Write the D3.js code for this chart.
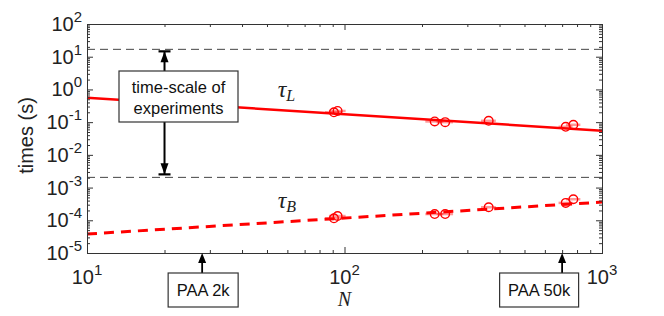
<!DOCTYPE html>
<html lang="en">
<head>
  <meta charset="UTF-8">
  <title>Time scales vs N</title>
  <script src="https://d3js.org/d3.v7.min.js"></script>
  <style>
    body { margin: 0; background: #fff; }
    svg { font-family: "Liberation Sans", Arial, sans-serif; }
  </style>
</head>
<body>
  <svg id="chart" width="664" height="316"></svg>
  <script>
    // Measured data (N, tau_L, tau_B) with horizontal error on N
    const nVals   = [91, 94, 224, 246, 363, 723, 774];
    const nErr    = [7, 7, 18, 18, 24, 45, 50];
    const tauL    = [0.20, 0.22, 0.105, 0.10, 0.11, 0.072, 0.083];
    const tauB    = [1.15e-4, 1.35e-4, 1.55e-4, 1.55e-4, 2.5e-4, 3.4e-4, 4.4e-4];

    // Power-law fits, evaluated at the ends of the axis
    const fitN    = [10, 1000];
    const fitL    = [0.557, 0.055];
    const fitB    = [3.8e-5, 3.6e-4];

    // Experimental time-scale window (s)
    const expWindow = [0.00205, 16.8];
    const expArrowN = 20;

    // Annotations below the x axis
    const paaLabels = ["PAA 2k", "PAA 50k"];
    const paaN      = [28, 700];

    const xTicks = [1e1, 1e2, 1e3];
    const yTicks = [1e-5, 1e-4, 1e-3, 1e-2, 1e-1, 1e0, 1e1, 1e2];

    const svg = d3.select("#chart");
    const margin = {top: 24, right: 62, bottom: 63, left: 87};
    const width = 664 - margin.left - margin.right;
    const height = 316 - margin.top - margin.bottom;

    const g = svg.append("g").attr("transform", `translate(${margin.left},${margin.top})`);

    const x = d3.scaleLog().domain([10, 1000]).range([0, width]);
    const y = d3.scaleLog().domain([1e-5, 1e2]).range([height, 0]);

    // minor ticks
    const minor = (lo, hi) => {
      const out = [];
      for (let e = lo; e < hi; e++)
        for (let k = 2; k <= 9; k++) out.push(k * Math.pow(10, e));
      return out;
    };
    const xMinor = minor(1, 3);
    const yMinor = minor(-5, 2);

    // black dashed lines for the experiment window
    expWindow.forEach(v => {
      g.append("line")
        .attr("x1", 0).attr("x2", width)
        .attr("y1", y(v)).attr("y2", y(v))
        .attr("stroke", "#444").attr("stroke-width", 1)
        .attr("stroke-dasharray", "8,5");
    });

    // fit lines
    const line = d3.line().x(d => x(d[0])).y(d => y(d[1]));
    g.append("path")
      .datum(fitN.map((n, i) => [n, fitL[i]]))
      .attr("d", line).attr("fill", "none")
      .attr("stroke", "#ff0000").attr("stroke-width", 2.5);
    g.append("path")
      .datum(fitN.map((n, i) => [n, fitB[i]]))
      .attr("d", line).attr("fill", "none")
      .attr("stroke", "#ff0000").attr("stroke-width", 3)
      .attr("stroke-dasharray", "10,7");

    // data points with horizontal error bars
    [tauL, tauB].forEach(series => {
      g.selectAll(null).data(nVals).enter().append("line")
        .attr("x1", (d, i) => x(d - nErr[i]))
        .attr("x2", (d, i) => x(d + nErr[i]))
        .attr("y1", (d, i) => y(series[i]))
        .attr("y2", (d, i) => y(series[i]))
        .attr("stroke", "#ff0000").attr("stroke-opacity", 0.4)
        .attr("stroke-width", 2.5);
      g.selectAll(null).data(nVals).enter().append("circle")
        .attr("cx", d => x(d))
        .attr("cy", (d, i) => y(series[i]))
        .attr("r", 4.3)
        .attr("fill", "none")
        .attr("stroke", "#ff0000").attr("stroke-width", 1.4);
    });

    // axes: ticks pointing inwards on all four sides
    const axisStyle = sel => {
      sel.select(".domain").attr("stroke", "#333");
      sel.selectAll(".tick line").attr("stroke", "#333");
    };
    const noLabel = () => "";
    g.append("g").attr("transform", `translate(0,${height})`)
      .call(d3.axisBottom(x).tickValues(xMinor).tickSize(-3).tickFormat(noLabel)).call(axisStyle);
    g.append("g").attr("transform", `translate(0,${height})`)
      .call(d3.axisBottom(x).tickValues(xTicks).tickSize(-6).tickFormat(noLabel)).call(axisStyle);
    g.append("g")
      .call(d3.axisTop(x).tickValues(xMinor).tickSize(-3).tickFormat(noLabel)).call(axisStyle);
    g.append("g")
      .call(d3.axisTop(x).tickValues(xTicks).tickSize(-6).tickFormat(noLabel)).call(axisStyle);
    g.append("g")
      .call(d3.axisLeft(y).tickValues(yMinor).tickSize(-3).tickFormat(noLabel)).call(axisStyle);
    g.append("g")
      .call(d3.axisLeft(y).tickValues(yTicks).tickSize(-6).tickFormat(noLabel)).call(axisStyle);
    g.append("g").attr("transform", `translate(${width},0)`)
      .call(d3.axisRight(y).tickValues(yMinor).tickSize(-3).tickFormat(noLabel)).call(axisStyle);
    g.append("g").attr("transform", `translate(${width},0)`)
      .call(d3.axisRight(y).tickValues(yTicks).tickSize(-6).tickFormat(noLabel)).call(axisStyle);

    // power-of-ten tick labels
    const powLabel = (sel, v) => {
      const e = Math.round(Math.log10(v));
      sel.append("tspan").text("10");
      sel.append("tspan").attr("dy", -9).attr("font-size", 15).text(String(e));
    };
    yTicks.forEach(v => {
      g.append("text")
        .attr("x", -5).attr("y", y(v) + 7)
        .attr("text-anchor", "end")
        .attr("font-size", 20).attr("fill", "#222")
        .call(powLabel, v);
    });
    xTicks.forEach(v => {
      g.append("text")
        .attr("x", x(v)).attr("y", height + 31)
        .attr("text-anchor", "middle")
        .attr("font-size", 20).attr("fill", "#222")
        .call(powLabel, v);
    });

    // axis titles
    svg.append("text")
      .attr("transform", `translate(33,${margin.top + height / 2 - 3}) rotate(-90)`)
      .attr("text-anchor", "middle")
      .attr("font-size", 20).attr("fill", "#222")
      .text("times (s)");
    g.append("text")
      .attr("x", x(100)).attr("y", height + 53)
      .attr("text-anchor", "middle")
      .attr("font-family", "'Liberation Serif', serif")
      .attr("font-style", "italic")
      .attr("font-size", 20).attr("fill", "#222")
      .text("N");

    // tau labels
    const tauLabel = (n, v, sub) => {
      const t = g.append("text")
        .attr("x", x(n)).attr("y", y(v))
        .attr("font-family", "'Liberation Serif', serif")
        .attr("font-style", "italic").attr("fill", "#222");
      t.append("tspan").attr("font-size", 24).text("\u03C4");
      t.append("tspan").attr("font-size", 16).attr("dy", 4).text(sub);
    };
    tauLabel(55, 0.59, "L");
    tauLabel(55, 0.000235, "B");

    // experiment window arrow with caps
    const ax = x(expArrowN);
    const capW = 6;
    const head = (yTip, dir) => {
      g.append("path")
        .attr("d", `M${ax},${yTip} L${ax - 4},${yTip + dir * 11} L${ax + 4},${yTip + dir * 11} Z`)
        .attr("fill", "#000");
    };
    const yTop = y(expWindow[1]) + 2;
    const yBot = y(expWindow[0]) - 3;
    g.append("line").attr("x1", ax).attr("x2", ax).attr("y1", yTop).attr("y2", yBot)
      .attr("stroke", "#000").attr("stroke-width", 2);
    [yTop, yBot].forEach(yy => {
      g.append("line").attr("x1", ax - capW).attr("x2", ax + capW).attr("y1", yy).attr("y2", yy)
        .attr("stroke", "#000").attr("stroke-width", 2.2);
    });
    head(yTop, 1);
    head(yBot, -1);

    // annotation box
    const boxX = 32, boxY = 47, boxW = 119, boxH = 51;
    g.append("rect")
      .attr("x", boxX).attr("y", boxY).attr("width", boxW).attr("height", boxH)
      .attr("fill", "#fff").attr("stroke", "#333").attr("stroke-width", 1.2);
    const bt = g.append("text")
      .attr("text-anchor", "middle").attr("font-size", 16.5).attr("fill", "#111");
    bt.append("tspan").attr("x", boxX + boxW / 2).attr("y", boxY + 22).text("time-scale of");
    bt.append("tspan").attr("x", boxX + boxW / 2).attr("y", boxY + 43).text("experiments");

    // PAA annotations below the axis (the 50k box sits left of its arrow)
    const paaW = [70, 79];
    const paaShift = [0, -24];
    paaLabels.forEach((lab, i) => {
      const px = x(paaN[i]);
      g.append("line").attr("x1", px).attr("x2", px)
        .attr("y1", height + 8).attr("y2", height + 20)
        .attr("stroke", "#000").attr("stroke-width", 1.8);
      g.append("path")
        .attr("d", `M${px},${height} L${px - 4},${height + 10} L${px + 4},${height + 10} Z`)
        .attr("fill", "#000");
      const bx = px - paaW[i] / 2 + 1 + paaShift[i];
      g.append("rect")
        .attr("x", bx).attr("y", height + 20)
        .attr("width", paaW[i]).attr("height", 34)
        .attr("fill", "#fff").attr("stroke", "#333").attr("stroke-width", 1.2);
      g.append("text")
        .attr("x", bx + paaW[i] / 2).attr("y", height + 43)
        .attr("text-anchor", "middle").attr("font-size", 16.5).attr("fill", "#111")
        .text(lab);
    });
  </script>
</body>
</html>
